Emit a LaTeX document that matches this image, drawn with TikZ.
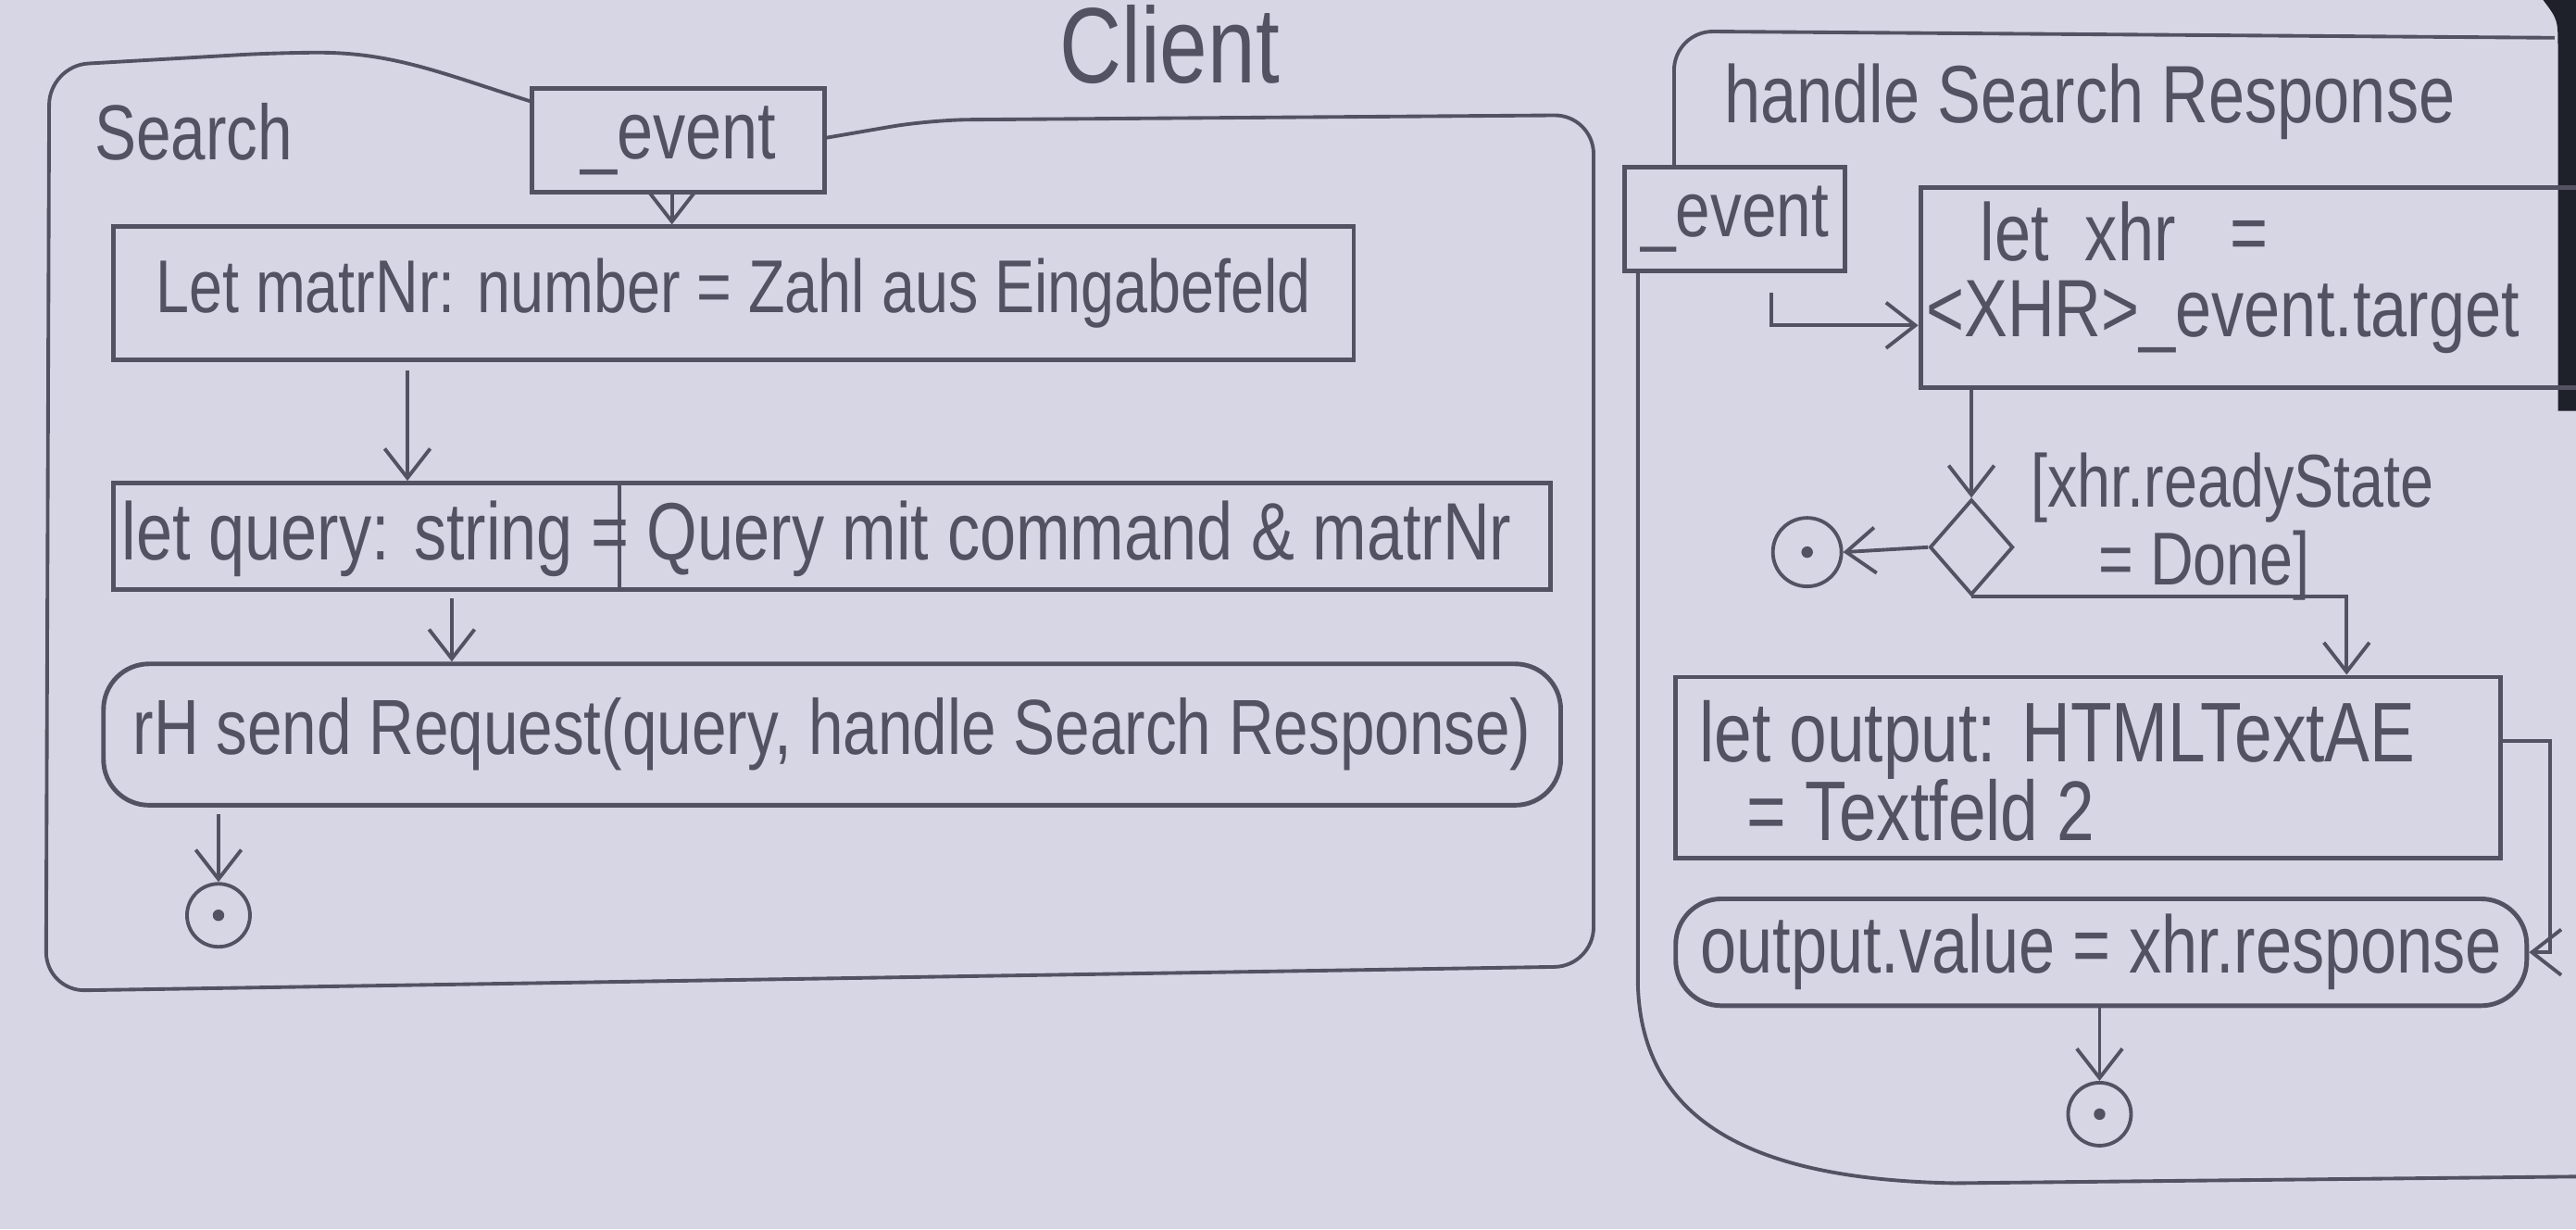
\documentclass[tikz,border=0pt]{standalone}
\usepackage{fontspec}
\setmainfont{Liberation Sans}[FakeStretch=0.8]
\usetikzlibrary{arrows.meta,fit,shapes.geometric,calc}
\definecolor{paper}{RGB}{214,214,228}
\definecolor{pencil}{RGB}{82,82,98}
\definecolor{edge}{RGB}{30,32,42}
\begin{document}
\begin{tikzpicture}[x=0.01774cm,y=-0.01774cm,
  txt/.style={text=pencil,font=\fontsize{25}{30}\selectfont,inner sep=0pt},
  pbox/.style={draw=pencil,line width=1.4pt,inner sep=0pt},
  rbox/.style={pbox,rounded corners=14pt},
  frame/.style={draw=pencil,line width=1.1pt,rounded corners=12pt},
  arr/.style={draw=pencil,line width=1.1pt,-{Straight Barb[length=9pt,width=14pt,line width=1.1pt]}},
  flow/.style={draw=pencil,line width=1.1pt},
  fin/.style={circle,draw=pencil,line width=1.1pt,inner sep=0pt,minimum size=0.68cm},
  dia/.style={diamond,draw=pencil,line width=1.1pt,inner sep=0pt,minimum width=0.9cm,minimum height=1.03cm}]
\useasboundingbox (0,0) rectangle (1568,748);
\fill[paper] (0,0) rectangle (1568,748);
\fill[edge] (1552,0) -- (1568,0) -- (1568,250) -- (1557,250) -- (1557,30) .. controls (1557,12) .. (1548,0) -- cycle;

% ---------- titles ----------
\node[txt,font=\fontsize{33}{36}\selectfont] (client) at (712,27) {Client};
\node[txt,font=\fontsize{24}{28}\selectfont] (searchlbl) at (118,80) {Search};
\node[txt] (hsrlbl) at (1272,62) {handle Search Response};

% ---------- Search activity ----------
\draw[frame] (324,62) .. controls (270,45) and (240,32) .. (170,32)
  -- (30,40) -- (28,603) -- (970,588) -- (970,70) -- (566,73) -- (502,84);

\node[pbox,fill=paper,fit={(324,54) (502,117)}] (pin1) {};
\node[txt] (pin1t) at (pin1.center) {\_event};
\node[pbox,fit={(69,138) (824,219)}] (b1) {};
\node[txt,font=\fontsize{23}{28}\selectfont] (b1t) at (b1.center) {Let matrNr: number = Zahl aus Eingabefeld};
\node[pbox,fit={(69,294) (944,359)}] (b2) {};
\node[txt,anchor=west] (b2t) at (74,328) {let query: string = Query mit command \& matrNr};
\draw[flow] (b2.north west -| 377,0) -- (b2.south west -| 377,0);
\node[rbox,fit={(63,404) (950,490)}] (b3) {};
\node[txt,font=\fontsize{24}{28}\selectfont] (b3t) at (b3.center) {rH send Request(query, handle Search Response)};
\node[fin] (f1) at (133,557) {};
\fill[pencil] (f1.center) circle (3.5);

\draw[arr] (pin1.south -| 409,0) -- (b1.north -| 409,0);
\draw[arr] (b1.south -| 248,0) ++(0,5) -- (b2.north -| 248,0);
\draw[arr] (b2.south -| 275,0) ++(0,4) -- (b3.north -| 275,0);
\draw[arr] (b3.south -| f1.north) ++(0,4) -- (f1.north);

% ---------- handle Search Response activity ----------
\draw[frame] (1019,101) -- (1019,19) -- (1555,23);
\draw[draw=pencil,line width=1.1pt] (997,165) -- (997,600) .. controls (1000,690) and (1080,718) .. (1190,720) -- (1568,716);

\node[pbox,fit={(989,102) (1123,165)}] (pin2) {};
\node[txt,font=\fontsize{24}{28}\selectfont] (pin2t) at (pin2.center) {\_event};
\node[pbox,fit={(1169,114) (1590,236)}] (xhr) {};
\node[txt,anchor=west] (xhr1) at (1205,141) {let\ \ xhr\ \ \ =};
\node[txt,anchor=west] (xhr2) at (1172,193) {<XHR>\_event.target};
\node[dia] (d) at (1200,333) {};
\node[txt,anchor=west,font=\fontsize{23}{27}\selectfont] (g1) at (1236,297) {[xhr.readyState};
\node[txt,anchor=west,font=\fontsize{23}{27}\selectfont] (g2) at (1277,344) {= Done]};
\node[fin,minimum size=0.74cm] (f2) at (1100,336) {};
\fill[pencil] (f2.center) circle (3.5);
\node[pbox,fit={(1020,412) (1522,522)}] (b4) {};
\node[txt,anchor=west,font=\fontsize{26}{30}\selectfont] (b4a) at (1034,450) {let output: HTMLTextAE};
\node[txt,anchor=west,font=\fontsize{26}{30}\selectfont] (b4b) at (1063,493) {= Textfeld 2};
\node[rbox,fit={(1020,547) (1538,612)}] (b5) {};
\node[txt] (b5t) at (b5.center) {output.value = xhr.response};
\node[fin] (f3) at (1278,678) {};
\fill[pencil] (f3.center) circle (3.5);

\draw[arr] ([shift={(-46,12)}]pin2.south east) |- ([shift={(0,23)}]xhr.west);
\draw[arr] (xhr.south -| d.north) -- (d.north);
\draw[arr] (d.west) -- (f2.east);
\draw[arr] (d.south) -| ([shift={(-95,0)}]b4.north east);
\draw[arr] ([shift={(0,-16)}]b4.east) -- ++(29,0) |- (b5.east);
\draw[arr] (b5.south -| f3.north) -- (f3.north);
\end{tikzpicture}
\end{document}
